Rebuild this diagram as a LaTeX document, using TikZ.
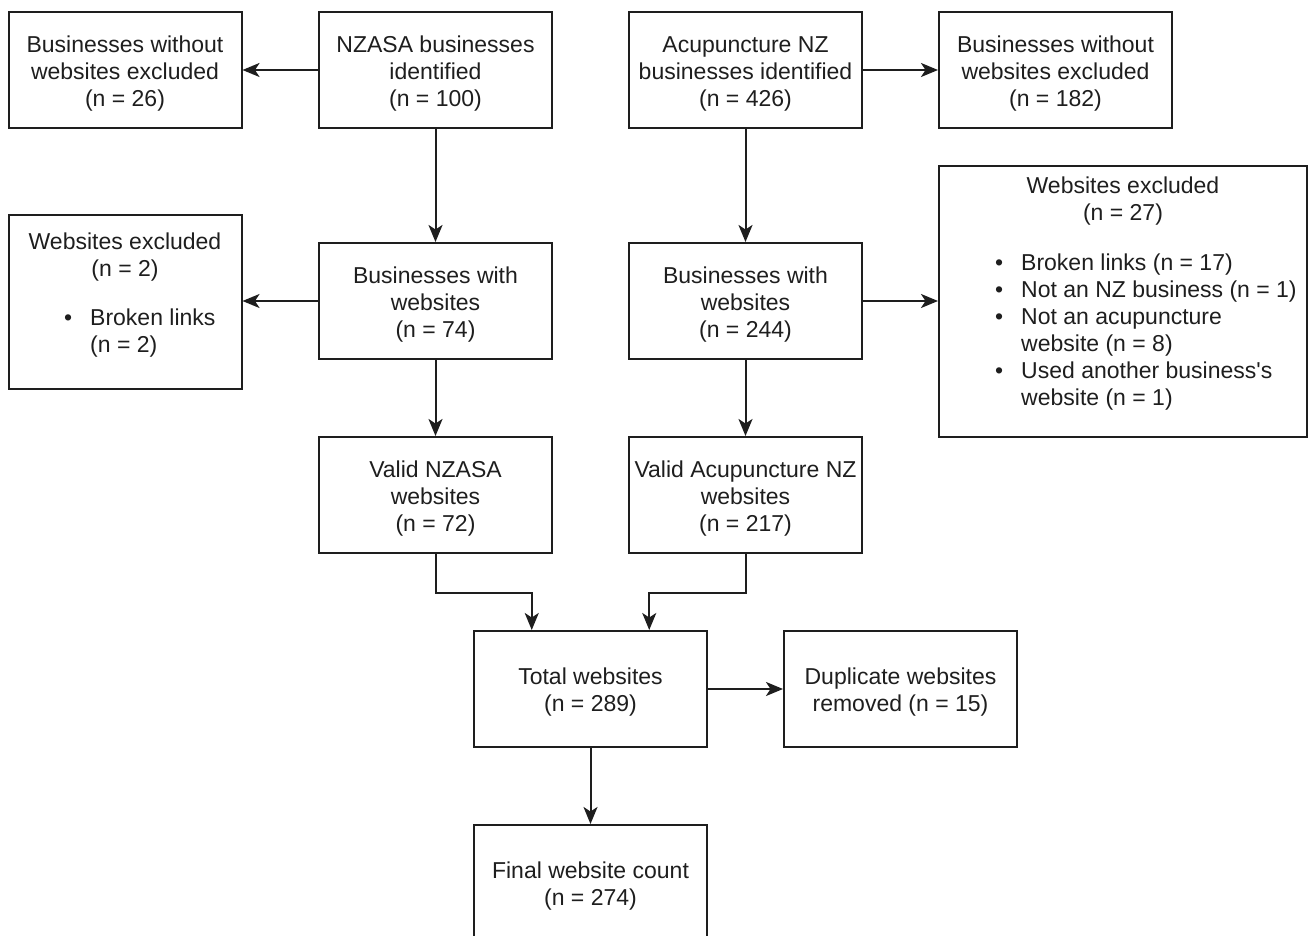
\documentclass[tikz,border=0pt]{standalone}
\usepackage{fontspec}
\setmainfont{Liberation Sans}
\usetikzlibrary{arrows.meta,calc}
\definecolor{ink}{RGB}{30,30,30}
\tikzset{
  box/.style={draw=ink, line width=2pt, minimum width=233pt, minimum height=116pt,
    inner sep=0pt, align=center, text=ink, font=\fontsize{23}{27}\selectfont},
  txt/.style={inner sep=0pt, text=ink, font=\fontsize{23}{27}\selectfont},
  arr/.style={draw=ink, line width=2pt, -{Stealth[length=17pt,width=14pt,inset=4.5pt]}}
}
\newcommand{\bul}{\llap{\textbullet\hspace{18pt}}}
\newcommand{\tp}{\rule{0pt}{23pt}}
\begin{document}
\begin{tikzpicture}[x=1pt,y=-1pt]
\useasboundingbox (0,0) rectangle (1309,936);
\clip (0,0) rectangle (1309,936);
% row 1
\node[box] (b1) at (125,70) {\tp Businesses without\\websites excluded\\(n = 26)};
\node[box] (b2) at (435.5,70) {\tp NZASA businesses\\identified\\(n = 100)};
\node[box] (b3) at (745.5,70) {\tp Acupuncture NZ\\businesses identified\\(n = 426)};
\node[box] (b4) at (1055.5,70) {\tp Businesses without\\websites excluded\\(n = 182)};
% row 2
\node[box, minimum height=174pt] (b5) at (125,302) {};
\node[txt, align=center] (b5h) at (125,257) {Websites excluded\\(n = 2)};
\node[txt, align=left, anchor=west] (b5l) at (90,333.5) {\bul Broken links\\(n = 2)};
\node[box] (b6) at (435.5,301) {\tp Businesses with\\websites\\(n = 74)};
\node[box] (b7) at (745.5,301) {\tp Businesses with\\websites\\(n = 244)};
\node[box, minimum width=368pt, minimum height=271pt] (b8) at (1123,301.5) {};
\node[txt, align=center] (b8h) at (1123,201.5) {Websites excluded\\(n = 27)};
\node[txt, align=left, anchor=west] (b8l) at (1021,332.5) {\bul Broken links (n = 17)\\\bul Not an NZ business (n = 1)\\\bul Not an acupuncture\\website (n = 8)\\\bul Used another business\textquotesingle s\\website (n = 1)};
% row 3
\node[box] (b9) at (435.5,495) {\tp Valid NZASA\\websites\\(n = 72)};
\node[box] (b10) at (745.5,495) {\tp Valid Acupuncture NZ\\websites\\(n = 217)};
% row 4
\node[box] (b11) at (590.5,689) {\tp Total websites\\(n = 289)};
\node[box] (b12) at (900.5,689) {\tp Duplicate websites\\removed (n = 15)};
% row 5
\node[box] (b13) at (590.5,883) {\tp Final website count\\(n = 274)};
% connectors
\draw[arr] (b2.west) -- (b1.east);
\draw[arr] (b3.east) -- (b4.west);
\draw[arr] (b2.south) -- (b6.north);
\draw[arr] (b3.south) -- (b7.north);
\draw[arr] (b6.west) -- (b5.east |- b6.west);
\draw[arr] (b7.east) -- (b8.west |- b7.east);
\draw[arr] (b6.south) -- (b9.north);
\draw[arr] (b7.south) -- (b10.north);
\coordinate (m1) at ($(b11.north)!0.5!(b11.north west)$);
\coordinate (m2) at ($(b11.north)!0.5!(b11.north east)$);
\draw[arr] (b9.south) -- ++(0,-39pt) -| (m1);
\draw[arr] (b10.south) -- ++(0,-39pt) -| (m2);
\draw[arr] (b11.east) -- (b12.west);
\draw[arr] (b11.south) -- (b13.north);
\end{tikzpicture}
\end{document}
